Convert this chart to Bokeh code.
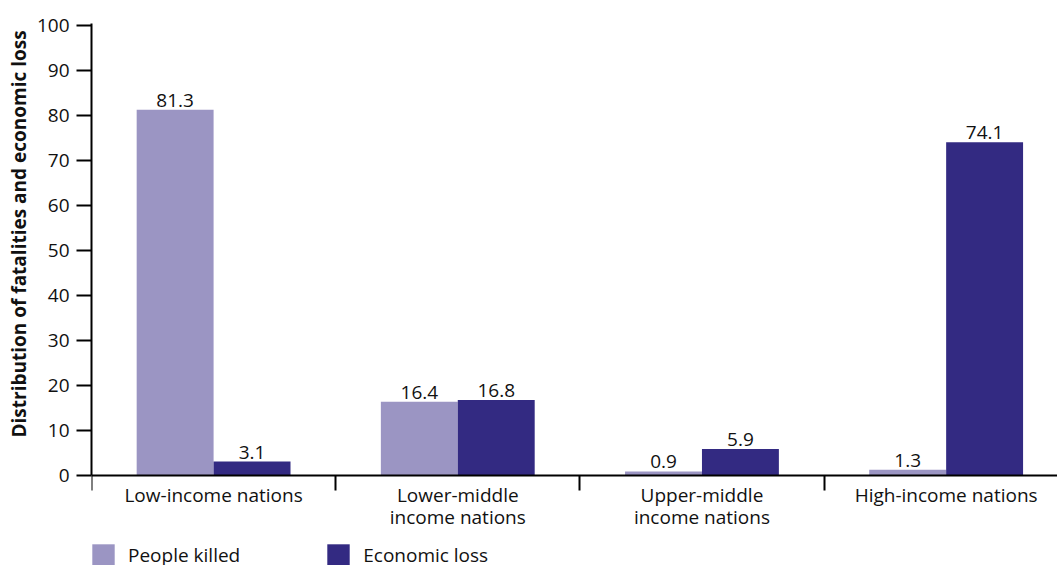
from bokeh.plotting import figure
from bokeh.models import Range1d, FixedTicker, ColumnDataSource, Legend, LegendItem, Title
from bokeh.core.properties import value
from bokeh.transform import dodge
from bokeh.embed import file_html
from bokeh.resources import INLINE

categories = ["Low-income nations", "Lower-middle\nincome nations", "Upper-middle\nincome nations", "High-income nations"]
people_killed = [81.3, 16.4, 0.9, 1.3]
economic_loss = [3.1, 16.8, 5.9, 74.1]
y_ticks = [0, 10, 20, 30, 40, 50, 60, 70, 80, 90, 100]
y_title = "Distribution of fatalities and economic loss"

FONT = "Open Sans"
LIGHT = "#9b95c3"
DARK = "#332a82"
FS = "19px"

xs = [i + 0.5 for i in range(len(categories))]
src = ColumnDataSource(dict(
    x=xs,
    killed=people_killed,
    loss=economic_loss,
    killed_lbl=[f"{v:.1f}" for v in people_killed],
    loss_lbl=[f"{v:.1f}" for v in economic_loss],
))

# frame extends below zero so that axis labels and legend sit inside it
p = figure(frame_width=966, frame_height=542, x_range=Range1d(0, 3.956), y_range=Range1d(-20.01, 100.5),
           output_backend="svg", toolbar_location=None,
           min_border_left=91, min_border_right=0, min_border_top=23, min_border_bottom=0)
p.outline_line_color = None
p.xgrid.visible = False
p.ygrid.visible = False

bw = 0.315
r1 = p.vbar(x=dodge("x", -bw / 2), top="killed", width=bw, source=src, fill_color=LIGHT, line_color=None)
r2 = p.vbar(x=dodge("x", bw / 2), top="loss", width=bw, source=src, fill_color=DARK, line_color=None)

for col, lbl, off in (("killed", "killed_lbl", -bw / 2), ("loss", "loss_lbl", bw / 2)):
    p.text(x=dodge("x", off), y=col, text=lbl, source=src, text_align="center", text_baseline="bottom",
           y_offset=-3, text_font_size=FS, text_font=value(FONT), text_color="#111111")

# x axis at y = 0
p.xaxis.fixed_location = 0
p.xaxis.ticker = FixedTicker(ticks=xs, minor_ticks=[0, 1, 2, 3, 4])
p.xaxis.major_label_overrides = {x: c for x, c in zip(xs, categories)}
p.xaxis.major_tick_line_color = None
p.xaxis.major_tick_out = 0
p.xaxis.major_tick_in = 0
p.xaxis.minor_tick_line_color = "black"
p.xaxis.minor_tick_line_width = 2
p.xaxis.minor_tick_out = 15
p.xaxis.minor_tick_in = 0
p.xaxis.axis_line_width = 2
p.xaxis.axis_line_color = "black"
p.xaxis.major_label_text_font = FONT
p.xaxis.major_label_text_font_size = FS
p.xaxis.major_label_text_color = "#111111"
p.xaxis.major_label_text_line_height = 0.85
p.xaxis.major_label_standoff = -9

# y axis
p.yaxis.ticker = FixedTicker(ticks=y_ticks)
p.yaxis.bounds = (0, 100.5)
p.yaxis.minor_tick_line_color = None
p.yaxis.major_tick_out = 15
p.yaxis.major_tick_in = 0
p.yaxis.major_tick_line_width = 2
p.yaxis.major_tick_line_color = "black"
p.yaxis.axis_line_width = 2
p.yaxis.axis_line_color = "black"
p.yaxis.major_label_text_font = FONT
p.yaxis.major_label_text_font_size = FS
p.yaxis.major_label_text_color = "#111111"
p.yaxis.major_label_standoff = 7

# y title placed alongside the 0-100 span (not the extended frame)
p.add_layout(Title(text=y_title, align="left", offset=128, text_font=FONT, text_font_size="19px",
                   text_font_style="bold", text_color="#111111", standoff=4), "left")

legend = Legend(items=[LegendItem(label="People killed", renderers=[r1]),
                       LegendItem(label="Economic loss", renderers=[r2])],
                orientation="horizontal", location=(-2, -4),
                glyph_width=28, glyph_height=28, label_standoff=11, spacing=84,
                label_text_font=FONT, label_text_font_size=FS, label_text_color="#111111",
                label_text_line_height=1.0, label_height=22,
                padding=0, margin=0, border_line_color=None, background_fill_alpha=0)
p.add_layout(legend, "center")

open("out.html", "w").write(file_html(p, INLINE))
